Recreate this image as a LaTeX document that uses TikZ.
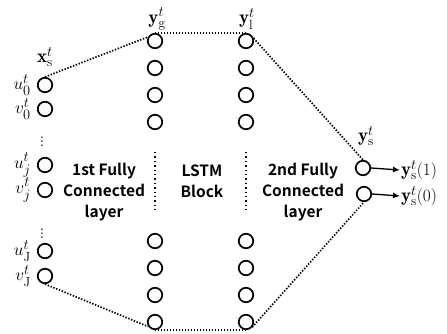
\documentclass[tikz,border=0pt]{standalone}
\usepackage{amsmath}
\usepackage{amssymb}
\usepackage{fontspec}
\newfontfamily\gothic{Noto Sans CJK JP}[BoldFont = {Noto Sans CJK JP Bold}]
\usepackage{tikz}
\usetikzlibrary{arrows.meta}
\usepackage{xcolor}

\begin{document}
\begin{tikzpicture}[x = 1pt, y = -1pt,
    unit/.style = {draw, circle, line width = 1.7pt, minimum size = 14.5pt, inner sep = 0pt},
    dotline/.style = {line width = 1.7pt, dash pattern = on 1.4pt off 1.6pt},
    coldots/.style = {line width = 1.4pt, dash pattern = on 1.4pt off 3pt},
    lab/.style = {inner sep = 1pt, font = \fontsize{19}{21}\selectfont},
    block/.style = {align = center, font = \gothic\bfseries\fontsize{15.5}{21}\selectfont}]
        \useasboundingbox (0, 0) rectangle (447, 334);
        % input column
        \node[unit] (u0) at (45, 85) {};
        \node[unit] (v0) at (45, 109) {};
        \node[unit] (uj) at (45, 165) {};
        \node[unit] (vj) at (45, 190) {};
        \node[unit] (uJ) at (45, 251) {};
        \node[unit] (vJ) at (45, 276) {};
        \node[lab, anchor = east] at (32, 85) {$u^t_0$};
        \node[lab, anchor = east] at (32, 109) {$v^t_0$};
        \node[lab, anchor = east] at (32, 165) {$u^t_j$};
        \node[lab, anchor = east] at (32, 190) {$v^t_j$};
        \node[lab, anchor = east] at (32, 251) {$u^t_{\mathrm{J}}$};
        \node[lab, anchor = east] at (32, 276) {$v^t_{\mathrm{J}}$};
        \node[lab, inner sep = 0pt] (in1) at (42, 139) {$\vdots$};
        \node[lab, inner sep = 0pt] (in2) at (42, 231) {$\vdots$};
        \node[lab] (xs) at (45, 57) {$\mathbf{x}^t_{\mathrm{s}}$};
        % hidden columns
        \foreach \i/\y in {1/41, 2/68, 3/95, 4/122, 5/241, 6/268, 7/295, 8/322} {
            \node[unit] (g\i) at (155, \y) {};
            \node[unit] (l\i) at (246, \y) {};
        }
        \draw[coldots] (g4) ++(0, 30) coordinate (ga) -- ++(0, 58) coordinate (gb);
        \draw[coldots] (l4) ++(0, 30) coordinate (la) -- ++(0, 58) coordinate (lb);
        \node[lab] (yg) at (157, 19) {$\mathbf{y}^t_{\mathrm{g}}$};
        \node[lab] (yl) at (247, 19) {$\mathbf{y}^t_{\mathrm{l}}$};
        % output
        \node[unit] (ys1) at (363, 168) {};
        \node[unit] (ys0) at (364, 194) {};
        \node[lab] (ys) at (366, 136) {$\mathbf{y}^t_{\mathrm{s}}$};
        \node[lab, anchor = west] (o1) at (400, 170) {$\mathbf{y}^t_{\mathrm{s}}(1)$};
        \node[lab, anchor = west] (o0) at (400, 196) {$\mathbf{y}^t_{\mathrm{s}}(0)$};
        \draw[-{Latex[length = 7pt, width = 6pt]}, line width = 1.3pt] (ys1.east) -- (o1.west);
        \draw[-{Latex[length = 7pt, width = 6pt]}, line width = 1.3pt] (ys0.east) -- (o0.west);
        % layer names
        \node[block] (fc1) at (104, 192) {1st Fully\\Connected\\layer};
        \node[block] (lstm) at (202, 181) {LSTM\\Block};
        \node[block] (fc2) at (303, 192) {2nd Fully\\Connected\\layer};
        % outline
        \draw[dotline] (u0.north) -- (g1.150);
        \draw[dotline] (g1.north) -- (l1.north);
        \draw[dotline] (l1.20) -- (ys1.north);
        \draw[dotline] (vJ.south) -- (g8.215);
        \draw[dotline] (g8.south) -- (l8.south);
        \draw[dotline] (l8.320) -- (ys0.south);
    \end{tikzpicture}
\end{document}
